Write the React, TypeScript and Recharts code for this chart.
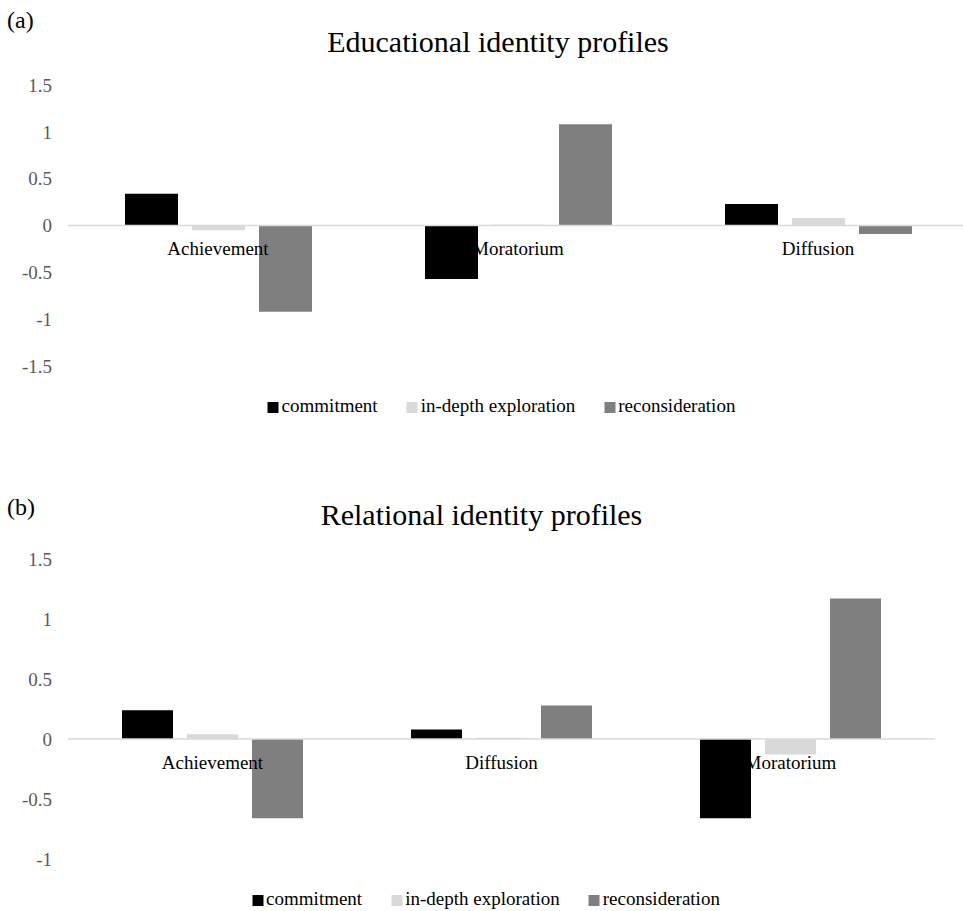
import React from "react";
import { BarChart, Bar, XAxis, YAxis, ReferenceLine, Legend } from "recharts";

const FONT = '"Liberation Serif", "Times New Roman", serif';

const seriesNames = ["commitment", "in-depth exploration", "reconsideration"];
const seriesColors = ["#000000", "#d9d9d9", "#7f7f7f"];

// (a) educational identity
const eduProfiles = ["Achievement", "Moratorium", "Diffusion"];
const eduCommitment = [0.34, -0.57, 0.23];
const eduExploration = [-0.05, 0.01, 0.08];
const eduReconsideration = [-0.92, 1.08, -0.09];
const eduTicks = [-1.5, -1, -0.5, 0, 0.5, 1, 1.5];

// (b) relational identity
const relProfiles = ["Achievement", "Diffusion", "Moratorium"];
const relCommitment = [0.24, 0.08, -0.66];
const relExploration = [0.04, 0.01, -0.13];
const relReconsideration = [-0.66, 0.28, 1.17];
const relTicks = [-1, -0.5, 0, 0.5, 1, 1.5];

const toRows = (profiles: string[], a: number[], b: number[], c: number[]) =>
  profiles.map((p, i) => ({ profile: p, s0: a[i], s1: b[i], s2: c[i] }));

const eduData = toRows(eduProfiles, eduCommitment, eduExploration, eduReconsideration);
const relData = toRows(relProfiles, relCommitment, relExploration, relReconsideration);

function LegendContent({ payload, shift }: any) {
  return (
    <div
      style={{
        height: 40,
        boxSizing: "border-box",
        paddingTop: 20,
        display: "flex",
        justifyContent: "center",
        transform: `translateX(${shift}px)`,
        fontFamily: FONT,
        fontSize: 19,
        lineHeight: "20px",
        color: "#000",
      }}
    >
      {(payload || []).map((p: any, i: number) => (
        <span key={p.value} style={{ display: "flex", alignItems: "center", marginLeft: i ? 29 : 0 }}>
          <span style={{ width: 11, height: 11, background: p.color, marginRight: 3, marginTop: 2 }} />
          {p.value}
        </span>
      ))}
    </div>
  );
}

type PanelProps = {
  data: any[];
  ticks: number[];
  width: number;
  top: number;
  plotH: number;
  right: number;
  barSize: number;
  legendShift: number;
};

function Panel({ data, ticks, width, top, plotH, right, barSize, legendShift }: PanelProps) {
  const min = ticks[0];
  const max = ticks[ticks.length - 1];
  const zeroY = top + (plotH * max) / (max - min);
  const height = top + plotH + 10 + 40;

  return (
    <BarChart
      width={width}
      height={height}
      data={data}
      margin={{ top, right, left: 0, bottom: 0 }}
      barGap={14}
      barSize={barSize}
    >
      <XAxis
        dataKey="profile"
        axisLine={false}
        tickLine={false}
        height={10}
        interval={0}
        tick={(props: any) => (
          <text
            x={props.x}
            y={zeroY + 23}
            textAnchor="middle"
            dominantBaseline="central"
            fill="#000"
            fontSize={19}
            fontFamily={FONT}
          >
            {props.payload.value}
          </text>
        )}
      />
      <YAxis
        type="number"
        domain={[min, max]}
        ticks={ticks}
        width={68}
        axisLine={false}
        tickLine={false}
        tickMargin={10}
        tick={{ fill: "#595959", fontSize: 19, fontFamily: FONT }}
      />
      <Legend verticalAlign="bottom" content={(p: any) => <LegendContent {...p} shift={legendShift} />} />
      {seriesNames.map((name, i) => (
        <Bar key={name} dataKey={`s${i}`} name={name} fill={seriesColors[i]} isAnimationActive={false} />
      ))}
      <ReferenceLine y={0} stroke="#d9d9d9" strokeWidth={1.5} />
    </BarChart>
  );
}

const titleStyle: React.CSSProperties = {
  position: "absolute",
  width: 600,
  textAlign: "center",
  fontFamily: FONT,
  fontSize: 30,
  lineHeight: "36px",
  color: "#000",
};

const tagStyle: React.CSSProperties = {
  position: "absolute",
  fontFamily: FONT,
  fontSize: 24,
  lineHeight: "28px",
  color: "#000",
};

export default function App() {
  return (
    <div
      style={{
        position: "absolute",
        left: 0,
        top: 0,
        width: 963,
        height: 911,
        overflow: "hidden",
        background: "#fff",
      }}
    >
      <div style={{ position: "absolute", left: 0, top: 0 }}>
        <Panel data={eduData} ticks={eduTicks} width={980} top={85} plotH={281} right={12} barSize={53} legendShift={17.5} />
      </div>
      <div style={{ position: "absolute", left: 0, top: 460 }}>
        <Panel data={relData} ticks={relTicks} width={963} top={99} plotH={300} right={28} barSize={51} legendShift={18.5} />
      </div>
      <div style={{ ...tagStyle, left: 7, top: 6 }}>(a)</div>
      <div style={{ ...tagStyle, left: 7, top: 493 }}>(b)</div>
      <div style={{ ...titleStyle, left: 198, top: 24 }}>Educational identity profiles</div>
      <div style={{ ...titleStyle, left: 181.5, top: 497 }}>Relational identity profiles</div>
    </div>
  );
}
